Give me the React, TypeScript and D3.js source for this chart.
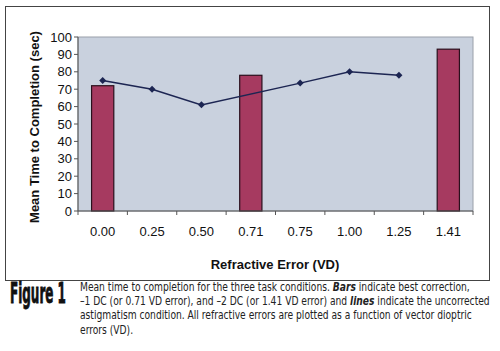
import React, { useLayoutEffect, useRef, useState } from "react";
import * as d3 from "d3";

const categories = ["0.00", "0.25", "0.50", "0.71", "0.75", "1.00", "1.25", "1.41"];
// best correction (bars)
const barValues: (number | null)[] = [72, null, null, 78, null, null, null, 93];
// uncorrected astigmatism (line)
const lineValues: (number | null)[] = [75, 70, 61, null, 73.5, 80, 78, null];
const yTicks = [0, 10, 20, 30, 40, 50, 60, 70, 80, 90, 100];

const captionLines = [
  ["Mean time to completion for the three task conditions. ", ["Bars"], " indicate best correction,"],
  ["\u20131 DC (or 0.71 VD error), and \u20132 DC (or 1.41 VD error) and ", ["lines"], " indicate the uncorrected"],
  ["astigmatism condition. All refractive errors are plotted as a function of vector dioptric"],
  ["errors (VD)."],
];
const captionWidth = 390;
const figureWidth = 56;

const W = 500;
const H = 351;
const plot = { left: 78, top: 37, right: 473, bottom: 211 };

export default function App() {
  const lineRefs = useRef<(SVGTextElement | null)[]>([]);
  const figRef = useRef<SVGTextElement | null>(null);
  const [scaleX, setScaleX] = useState<number>(0.8);
  const [figScale, setFigScale] = useState<number>(0.5);

  useLayoutEffect(() => {
    const el = lineRefs.current[0];
    if (el) {
      const w = el.getBBox().width;
      if (w > 0) setScaleX(captionWidth / w);
    }
    if (figRef.current) {
      const w = figRef.current.getBBox().width;
      if (w > 0) setFigScale(figureWidth / w);
    }
  }, []);

  const x = d3.scaleBand().domain(categories).range([plot.left, plot.right]);
  const y = d3.scaleLinear().domain([0, 100]).range([plot.bottom, plot.top]);
  const bw = x.bandwidth();
  const barW = bw * 0.45;

  const pts = categories
    .map((c, i) => ({ c, v: lineValues[i] }))
    .filter(d => d.v != null) as { c: string; v: number }[];
  const line = d3.line<{ c: string; v: number }>()
    .x(d => (x(d.c) as number) + bw / 2)
    .y(d => y(d.v));

  const font = "'Liberation Sans', Arial, sans-serif";
  const narrow = "'Liberation Sans Narrow', 'DejaVu Sans Condensed', 'Roboto', sans-serif";

  return (
    <svg width={W} height={H} style={{ position: "absolute", left: 0, top: 0, background: "#fff" }}>
      <rect x={0} y={0} width={W} height={H} fill="#fff" />
      {/* outer frame */}
      <rect x={5.5} y={6.5} width={484} height={274} fill="#fff" stroke="#444" strokeWidth={1} />
      {/* plot area */}
      <rect x={plot.left} y={plot.top} width={plot.right - plot.left} height={plot.bottom - plot.top}
        fill="#c9d1de" stroke="#9aa0aa" strokeWidth={1} />
      {/* bars */}
      {categories.map((c, i) => barValues[i] == null ? null : (
        <rect key={c} x={(x(c) as number) + (bw - barW) / 2} y={y(barValues[i] as number)}
          width={barW} height={plot.bottom - y(barValues[i] as number)}
          fill="#a63a60" stroke="#2a0f1c" strokeWidth={1.2} />
      ))}
      {/* line */}
      <path d={line(pts) || ""} fill="none" stroke="#1c2552" strokeWidth={1.5} />
      {pts.map(d => {
        const cx = (x(d.c) as number) + bw / 2;
        const cy = y(d.v);
        return <path key={d.c} d={`M${cx},${cy - 3.5}L${cx + 3.5},${cy}L${cx},${cy + 3.5}L${cx - 3.5},${cy}Z`} fill="#1c2552" />;
      })}
      {/* axes */}
      <line x1={plot.left} x2={plot.left} y1={plot.top} y2={plot.bottom} stroke="#555" />
      <line x1={plot.left} x2={plot.right} y1={plot.bottom} y2={plot.bottom} stroke="#555" />
      {yTicks.map(t => (
        <g key={t}>
          <line x1={plot.left - 4} x2={plot.left} y1={y(t)} y2={y(t)} stroke="#555" />
          <text x={plot.left - 6} y={y(t)} dy="0.35em" textAnchor="end" fontFamily={font} fontSize={13} fill="#111">{t}</text>
        </g>
      ))}
      {categories.map(c => (
        <g key={c}>
          <line x1={x(c) as number} x2={x(c) as number} y1={plot.bottom} y2={plot.bottom + 4} stroke="#555" />
          <text x={(x(c) as number) + bw / 2} y={231} dy="0.35em" textAnchor="middle" fontFamily={font} fontSize={13} fill="#111">{c}</text>
        </g>
      ))}
      <line x1={plot.right} x2={plot.right} y1={plot.bottom} y2={plot.bottom + 4} stroke="#555" />
      {/* axis titles */}
      <text x={275} y={264} dy="0.35em" textAnchor="middle" fontFamily={font} fontWeight="bold" fontSize={13} fill="#111">Refractive Error (VD)</text>
      <text transform={`translate(34,${(plot.top + plot.bottom) / 2 + 3}) rotate(-90)`} dy="0.35em" textAnchor="middle"
        fontFamily={font} fontWeight="bold" fontSize={13} fill="#111">Mean Time to Completion (sec)</text>
      {/* caption */}
      <g transform={`translate(10,303) scale(${figScale},1)`}>
        <text ref={figRef} x={0} y={0} fontFamily={narrow} fontWeight="bold" fontSize={28} fill="#111"
          stroke="#111" strokeWidth={0.8}>Figure 1</text>
      </g>
      <g transform={`translate(80,291) scale(${scaleX},1)`}>
        {captionLines.map((ln, i) => (
          <text key={i} ref={el => { lineRefs.current[i] = el; }} x={0} y={i * 14.2}
            fontFamily={narrow} fontSize={11.5} fill="#222">
            {ln.map((part, j) => Array.isArray(part)
              ? <tspan key={j} fontWeight="bold" fontStyle="italic">{part[0]}</tspan>
              : <tspan key={j}>{part}</tspan>)}
          </text>
        ))}
      </g>
    </svg>
  );
}
